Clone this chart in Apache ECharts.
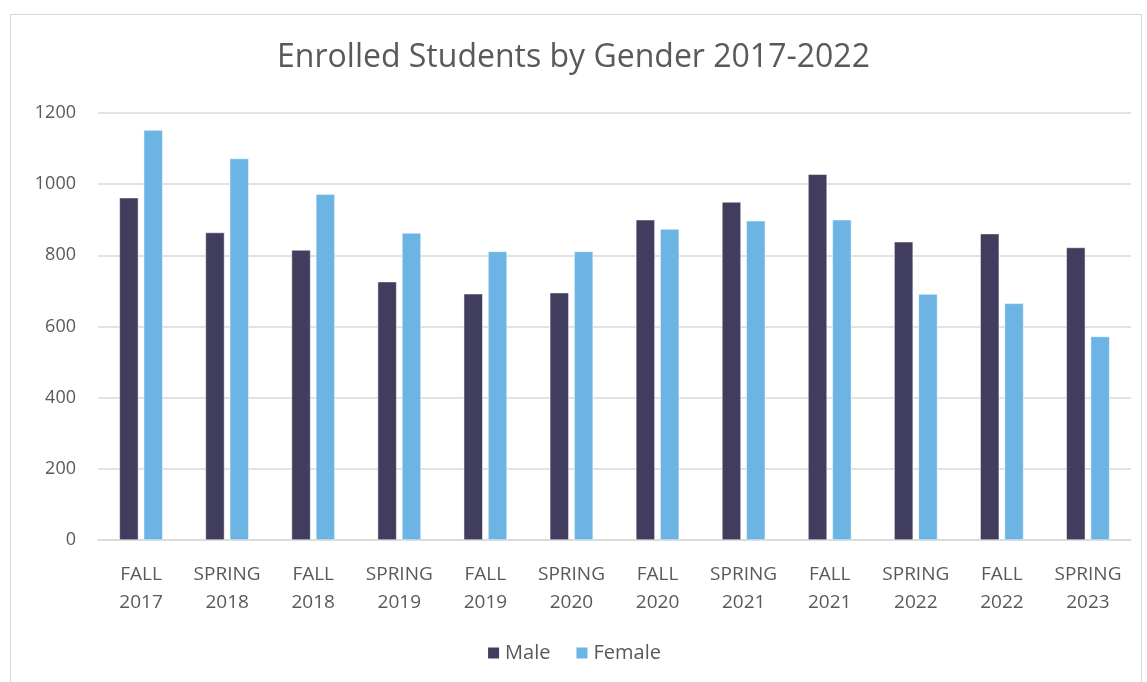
<!DOCTYPE html>
<html>
<head>
<meta charset="utf-8">
<script src="https://cdn.jsdelivr.net/npm/echarts@6/dist/echarts.min.js"></script>
<style>
  body { margin: 0; background: #fff; }
  #frame {
    position: absolute;
    left: 10px;
    top: 14px;
    width: 1130px;
    height: 700px;
    border: 1px solid #d9d9d9;
  }
  #enrollChart {
    position: absolute;
    left: 0;
    top: 0;
    width: 1147px;
    height: 682px;
  }
</style>
</head>
<body>
<div id="frame"></div>
<div id="enrollChart"></div>
<script>
  // enrollment by term
  let enrollData = {
    terms: ['FALL\n2017', 'SPRING\n2018', 'FALL\n2018', 'SPRING\n2019', 'FALL\n2019', 'SPRING\n2020',
            'FALL\n2020', 'SPRING\n2021', 'FALL\n2021', 'SPRING\n2022', 'FALL\n2022', 'SPRING\n2023'],
    male:   [962, 864, 815, 726, 692, 695, 900, 950, 1028, 838, 861, 822],
    female: [1152, 1072, 972, 863, 811, 811, 874, 897, 900, 691, 665, 572]
  }

  let font = '"Open Sans", "Liberation Sans", sans-serif'
  let chart = echarts.init(document.getElementById('enrollChart'))
  chart.setOption({
    animation: false,
    textStyle: { fontFamily: font },
    title: {
      text: 'Enrolled Students by Gender 2017-2022',
      left: 'center',
      top: 37,
      textStyle: {
        fontFamily: font,
        fontSize: 32,
        fontWeight: 'normal',
        color: '#595959'
      }
    },
    grid: {
      left: 98,
      right: 16,
      top: 113,
      bottom: 142
    },
    legend: {
      data: ['Male', 'Female'],
      bottom: 14,
      left: 'center',
      icon: 'rect',
      itemWidth: 13,
      itemHeight: 13,
      itemGap: 24,
      textStyle: {
        fontFamily: font,
        fontSize: 20,
        color: '#595959'
      }
    },
    xAxis: {
      type: 'category',
      data: enrollData.terms,
      axisLine: { lineStyle: { color: '#d9d9d9', width: 1.5 } },
      axisTick: { show: false },
      axisLabel: {
        interval: 0,
        margin: 21,
        fontSize: 19,
        lineHeight: 28,
        color: '#595959'
      }
    },
    yAxis: {
      type: 'value',
      min: 0,
      max: 1200,
      interval: 200,
      axisLine: { show: false },
      axisTick: { show: false },
      splitLine: { lineStyle: { color: '#d9d9d9', width: 1.5 } },
      axisLabel: {
        margin: 22,
        fontSize: 18,
        color: '#595959',
        formatter: function (v) { return String(v) }
      }
    },
    series: [{
      name: 'Male',
      type: 'bar',
      data: enrollData.male,
      barWidth: 19,
      barGap: '28%',
      itemStyle: { color: '#403d5e', borderColor: '#ffffff', borderWidth: 0.5 }
    }, {
      name: 'Female',
      type: 'bar',
      data: enrollData.female,
      barWidth: 19,
      itemStyle: { color: '#6cb4e4', borderColor: '#ffffff', borderWidth: 0.5 }
    }]
  })
</script>
</body>
</html>
